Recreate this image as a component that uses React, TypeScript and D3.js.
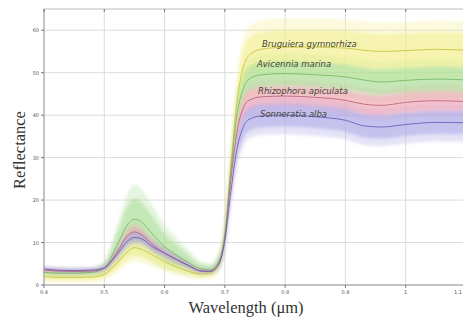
import React from "react";
import * as d3 from "d3";

const wavelengths = [0.40, 0.42, 0.45, 0.48, 0.50, 0.52, 0.54, 0.55, 0.56, 0.58, 0.60, 0.62, 0.64, 0.66, 0.675, 0.69, 0.70, 0.71, 0.72, 0.73, 0.74, 0.76, 0.80, 0.85, 0.90, 0.93, 0.96, 1.00, 1.05, 1.10];

const bruguieraMean = [2.0, 1.8, 1.8, 1.9, 2.5, 5.0, 8.0, 8.8, 8.5, 7.0, 5.5, 4.2, 3.2, 2.6, 2.8, 5.0, 12, 28, 43, 51, 54, 55.5, 56, 56, 55.8, 55.3, 55.0, 55.2, 55.5, 55.3];
const bruguieraStd = [0.8, 0.8, 0.8, 0.8, 0.9, 1.5, 2.0, 2.2, 2.1, 1.8, 1.5, 1.2, 1.0, 0.9, 0.9, 1.2, 2.5, 3.5, 4.2, 4.5, 4.5, 4.5, 4.5, 4.5, 4.5, 4.5, 4.5, 4.5, 4.5, 4.5];

const avicenniaMean = [3.0, 2.8, 2.8, 3.0, 4.0, 9.0, 14.5, 15.5, 15.0, 12.0, 9.0, 7.0, 5.2, 3.8, 3.6, 5.5, 12, 27, 40, 46, 48.5, 49.5, 49.8, 49.5, 49.0, 48.3, 47.8, 48.2, 48.5, 48.3];
const avicenniaStd = [0.8, 0.8, 0.8, 0.8, 1.2, 3.0, 5.0, 5.5, 5.2, 4.5, 3.5, 2.8, 2.0, 1.2, 1.0, 1.5, 2.5, 3.0, 3.2, 3.2, 3.2, 3.2, 3.2, 3.2, 3.2, 3.2, 3.2, 3.2, 3.2, 3.2];

const rhizophoraMean = [3.5, 3.3, 3.2, 3.3, 4.0, 7.5, 11.8, 12.5, 12.0, 9.5, 7.5, 6.0, 4.5, 3.3, 3.2, 5.0, 11, 25, 36, 41.5, 43.5, 44.3, 44.5, 44.2, 43.5, 42.6, 42.3, 43.0, 43.4, 43.2];
const rhizophoraStd = [0.5, 0.5, 0.5, 0.5, 0.6, 1.0, 1.5, 1.6, 1.5, 1.2, 1.0, 0.8, 0.6, 0.5, 0.5, 0.8, 1.5, 2.0, 2.4, 2.5, 2.5, 2.5, 2.5, 2.5, 2.5, 2.5, 2.5, 2.5, 2.5, 2.5];

const sonneratiaMean = [3.8, 3.5, 3.4, 3.5, 4.0, 7.0, 10.5, 11.2, 11.0, 9.0, 7.5, 6.0, 4.6, 3.3, 3.2, 5.0, 10.5, 22, 32, 37, 39, 39.8, 40.0, 39.6, 38.8, 37.5, 37.2, 37.8, 38.3, 38.2];
const sonneratiaStd = [0.5, 0.5, 0.5, 0.5, 0.6, 1.0, 1.3, 1.4, 1.3, 1.1, 0.9, 0.8, 0.6, 0.5, 0.5, 0.8, 1.5, 2.2, 2.8, 3.0, 3.0, 3.0, 3.0, 3.0, 3.0, 3.0, 3.0, 3.0, 3.0, 3.0];

const speciesNames = ["Bruguiera gymnorhiza", "Avicennia marina", "Rhizophora apiculata", "Sonneratia alba"];
const speciesMeans = [bruguieraMean, avicenniaMean, rhizophoraMean, sonneratiaMean];
const speciesStds = [bruguieraStd, avicenniaStd, rhizophoraStd, sonneratiaStd];
const bandColors = ["#f3ee8c", "#a9dd96", "#f2a9b6", "#aaa6e6"];
const lineColors = ["#c8c040", "#74b860", "#b86078", "#6a5cb4"];
const labelPositions = [[262, 47], [257, 67], [258, 94], [260, 117]];

const xTicks = [0.4, 0.5, 0.6, 0.7, 0.8, 0.9, 1, 1.1];
const xTickLabels = ["0.4", "0.5", "0.6", "0.7", "0.8", "0.9", "1", "1.1"];
const yTicks = [0, 10, 20, 30, 40, 50, 60];

export default function App() {
  const left = 44, right = 466, top = 9, bottom = 285;
  const x = d3.scaleLinear().domain([0.4, 1.1]).range([left, right]);
  const y = d3.scaleLinear().domain([0, 65]).range([bottom, top]);

  const makeArea = (mean: number[], std: number[], k: number) =>
    d3.area<number>()
      .x((_, i) => x(wavelengths[i]))
      .y0((_, i) => y(Math.max(0, mean[i] - k * std[i])))
      .y1((_, i) => y(mean[i] + k * std[i]))
      .curve(d3.curveMonotoneX)(mean) || "";
  const makeLine = (mean: number[]) =>
    d3.line<number>()
      .x((_, i) => x(wavelengths[i]))
      .y((d) => y(d))
      .curve(d3.curveMonotoneX)(mean) || "";

  return (
    <svg width={463} height={323} style={{ position: "absolute", left: 0, top: 0, background: "#fff" }}>
      <defs>
        <filter id="soft" x="-5%" y="-5%" width="110%" height="110%">
          <feGaussianBlur stdDeviation="1.5" />
        </filter>
      </defs>
      {/* grid */}
      {xTicks.map((t) => (
        <line key={"gx" + t} x1={x(t)} x2={x(t)} y1={top} y2={bottom} stroke="#dcdcdc" strokeWidth={1} />
      ))}
      {yTicks.map((t) => (
        <line key={"gy" + t} x1={left} x2={right} y1={y(t)} y2={y(t)} stroke="#dcdcdc" strokeWidth={1} />
      ))}
      <line x1={left} x2={right} y1={top} y2={top} stroke="#bbb" strokeWidth={1} />
      {/* bands */}
      <g filter="url(#soft)">
        {speciesMeans.map((m, i) => (
          <path key={"ob" + i} d={makeArea(m, speciesStds[i], 1.5)} fill={bandColors[i]} fillOpacity={0.3} />
        ))}
        {speciesMeans.map((m, i) => (
          <path key={"ib" + i} d={makeArea(m, speciesStds[i], 0.9)} fill={bandColors[i]} fillOpacity={0.55} />
        ))}
      </g>
      {speciesMeans.map((m, i) => (
        <path key={"ln" + i} d={makeLine(m)} fill="none" stroke={lineColors[i]} strokeWidth={1} strokeOpacity={0.85} />
      ))}
      {/* axes */}
      <line x1={left} x2={left} y1={top} y2={bottom} stroke="#999" strokeWidth={1} />
      <line x1={left} x2={right} y1={bottom} y2={bottom} stroke="#999" strokeWidth={1} />
      {xTicks.map((t, i) => (
        <g key={"xt" + t}>
          <line x1={x(t)} x2={x(t)} y1={bottom} y2={bottom + 3} stroke="#777" />
          <line x1={x(t)} x2={x(t)} y1={top} y2={top + 3} stroke="#777" />
          <text x={i === xTicks.length - 1 ? 462 : x(t)} y={bottom + 9} fontSize={5} fill="#555" textAnchor={i === xTicks.length - 1 ? "end" : "middle"} fontFamily="DejaVu Sans">{xTickLabels[i]}</text>
        </g>
      ))}
      {yTicks.map((t) => (
        <g key={"yt" + t}>
          <line x1={left - 3} x2={left} y1={y(t)} y2={y(t)} stroke="#777" />
          <text x={left - 5} y={y(t) + 2} fontSize={5} fill="#555" textAnchor="end" fontFamily="DejaVu Sans">{t}</text>
        </g>
      ))}
      {/* labels */}
      {speciesNames.map((n, i) => (
        <text key={"lb" + i} x={labelPositions[i][0]} y={labelPositions[i][1]} fontSize={8.5} fontStyle="italic" fill="#44443a" fontFamily="DejaVu Sans">{n}</text>
      ))}
      <text x={246} y={313} fontSize={16.5} fontFamily="Liberation Serif" fill="#333" textAnchor="middle">Wavelength (μm)</text>
      <text transform="translate(25,150) rotate(-90)" fontSize={16.5} fontFamily="Liberation Serif" fill="#333" textAnchor="middle">Reflectance</text>
    </svg>
  );
}
